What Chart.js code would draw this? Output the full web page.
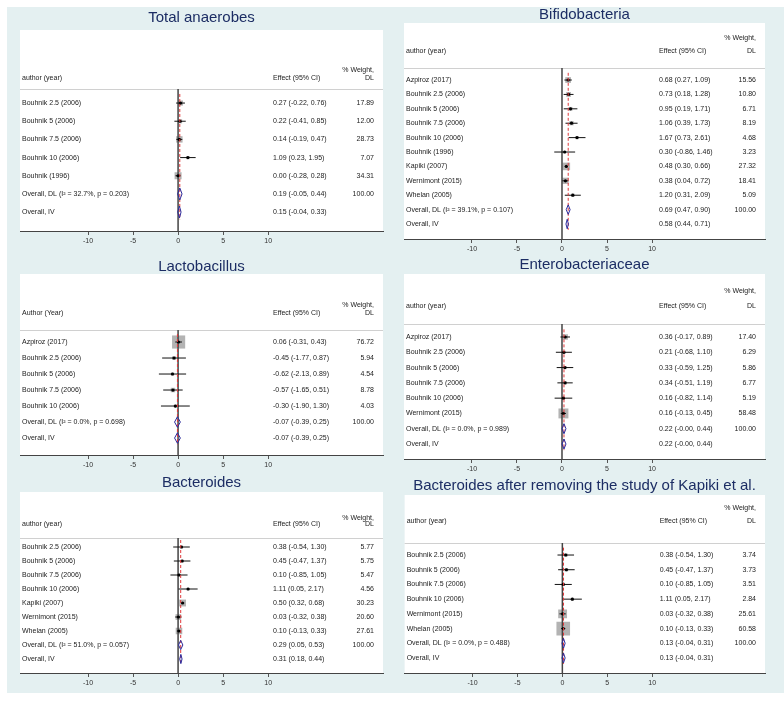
<!DOCTYPE html>
<html>
<head>
<meta charset="utf-8">
<title>Forest plots</title>
<script src="https://cdn.jsdelivr.net/npm/chart.js@4.4.0/dist/chart.umd.min.js"></script>
<style>
  html, body { margin: 0; padding: 0; background: #fff; }
  body { width: 784px; height: 703px; position: relative; overflow: hidden; }
  canvas { position: absolute; }
</style>
</head>
<body>
<script>
// x axis tick labels, shared by all six plots
const xTicks = [-10, -5, 0, 5, 10];

// Total anaerobes
const anaerobesStudies = ["Bouhnik 2.5 (2006)", "Bouhnik 5 (2006)", "Bouhnik 7.5 (2006)", "Bouhnik 10 (2006)", "Bouhnik (1996)"];
const anaerobesEst = [0.27, 0.22, 0.14, 1.09, 0.00];
const anaerobesLo = [-0.22, -0.41, -0.19, 0.23, -0.28];
const anaerobesHi = [0.76, 0.85, 0.47, 1.95, 0.28];
const anaerobesWeight = [17.89, 12.00, 28.73, 7.07, 34.31];
const anaerobesOverall = ["Overall, DL (I\u00b2 = 32.7%, p = 0.203)", "Overall, IV"];
const anaerobesOverallEst = [0.19, 0.15];
const anaerobesOverallLo = [-0.05, -0.04];
const anaerobesOverallHi = [0.44, 0.33];

// Bifidobacteria
const bifidoStudies = ["Azpiroz (2017)", "Bouhnik 2.5 (2006)", "Bouhnik 5 (2006)", "Bouhnik 7.5 (2006)", "Bouhnik 10 (2006)", "Bouhnik (1996)", "Kapiki (2007)", "Wernimont (2015)", "Whelan (2005)"];
const bifidoEst = [0.68, 0.73, 0.95, 1.06, 1.67, 0.30, 0.48, 0.38, 1.20];
const bifidoLo = [0.27, 0.18, 0.19, 0.39, 0.73, -0.86, 0.30, 0.04, 0.31];
const bifidoHi = [1.09, 1.28, 1.71, 1.73, 2.61, 1.46, 0.66, 0.72, 2.09];
const bifidoWeight = [15.56, 10.80, 6.71, 8.19, 4.68, 3.23, 27.32, 18.41, 5.09];
const bifidoOverall = ["Overall, DL (I\u00b2 = 39.1%, p = 0.107)", "Overall, IV"];
const bifidoOverallEst = [0.69, 0.58];
const bifidoOverallLo = [0.47, 0.44];
const bifidoOverallHi = [0.90, 0.71];

// Lactobacillus
const lactoStudies = ["Azpiroz (2017)", "Bouhnik 2.5 (2006)", "Bouhnik 5 (2006)", "Bouhnik 7.5 (2006)", "Bouhnik 10 (2006)"];
const lactoEst = [0.06, -0.45, -0.62, -0.57, -0.30];
const lactoLo = [-0.31, -1.77, -2.13, -1.65, -1.90];
const lactoHi = [0.43, 0.87, 0.89, 0.51, 1.30];
const lactoWeight = [76.72, 5.94, 4.54, 8.78, 4.03];
const lactoOverall = ["Overall, DL (I\u00b2 = 0.0%, p = 0.698)", "Overall, IV"];
const lactoOverallEst = [-0.07, -0.07];
const lactoOverallLo = [-0.39, -0.39];
const lactoOverallHi = [0.25, 0.25];

// Enterobacteriaceae
const enteroStudies = ["Azpiroz (2017)", "Bouhnik 2.5 (2006)", "Bouhnik 5 (2006)", "Bouhnik 7.5 (2006)", "Bouhnik 10 (2006)", "Wernimont (2015)"];
const enteroEst = [0.36, 0.21, 0.33, 0.34, 0.16, 0.16];
const enteroLo = [-0.17, -0.68, -0.59, -0.51, -0.82, -0.13];
const enteroHi = [0.89, 1.10, 1.25, 1.19, 1.14, 0.45];
const enteroWeight = [17.40, 6.29, 5.86, 6.77, 5.19, 58.48];
const enteroOverall = ["Overall, DL (I\u00b2 = 0.0%, p = 0.989)", "Overall, IV"];
const enteroOverallEst = [0.22, 0.22];
const enteroOverallLo = [-0.00, -0.00];
const enteroOverallHi = [0.44, 0.44];

// Bacteroides
const bactStudies = ["Bouhnik 2.5 (2006)", "Bouhnik 5 (2006)", "Bouhnik 7.5 (2006)", "Bouhnik 10 (2006)", "Kapiki (2007)", "Wernimont (2015)", "Whelan (2005)"];
const bactEst = [0.38, 0.45, 0.10, 1.11, 0.50, 0.03, 0.10];
const bactLo = [-0.54, -0.47, -0.85, 0.05, 0.32, -0.32, -0.13];
const bactHi = [1.30, 1.37, 1.05, 2.17, 0.68, 0.38, 0.33];
const bactWeight = [5.77, 5.75, 5.47, 4.56, 30.23, 20.60, 27.61];
const bactOverall = ["Overall, DL (I\u00b2 = 51.0%, p = 0.057)", "Overall, IV"];
const bactOverallEst = [0.29, 0.31];
const bactOverallLo = [0.05, 0.18];
const bactOverallHi = [0.53, 0.44];

// Bacteroides without Kapiki
const bact2Studies = ["Bouhnik 2.5 (2006)", "Bouhnik 5 (2006)", "Bouhnik 7.5 (2006)", "Bouhnik 10 (2006)", "Wernimont (2015)", "Whelan (2005)"];
const bact2Est = [0.38, 0.45, 0.10, 1.11, 0.03, 0.10];
const bact2Lo = [-0.54, -0.47, -0.85, 0.05, -0.32, -0.13];
const bact2Hi = [1.30, 1.37, 1.05, 2.17, 0.38, 0.33];
const bact2Weight = [3.74, 3.73, 3.51, 2.84, 25.61, 60.58];
const bact2Overall = ["Overall, DL (I\u00b2 = 0.0%, p = 0.488)", "Overall, IV"];
const bact2OverallEst = [0.13, 0.13];
const bact2OverallLo = [-0.04, -0.04];
const bact2OverallHi = [0.31, 0.31];

const FONT = "'Liberation Sans', Arial, sans-serif";
const BG = '#e4f0f1';

Chart.defaults.font.family = FONT;
Chart.defaults.font.size = 7;
Chart.defaults.color = '#222';

// layout of each panel on the page (box = canvas, white = plot box left/right/top)
const panels = [
  { title: "Total anaerobes", head: "author (year)", names: anaerobesStudies, est: anaerobesEst, lo: anaerobesLo, hi: anaerobesHi, w: anaerobesWeight,
    ov: anaerobesOverall, ovEst: anaerobesOverallEst, ovLo: anaerobesOverallLo, ovHi: anaerobesOverallHi,
    box: [7, 7, 389, 250], white: [20, 383, 30], axisY: 231, titleY: 18, xMax: 22.75,
    yMin: -3.02, yMax: 8.04, sep: 0.23, hdrA: -0.38, hdrW: -0.82, k: 1.2, effX: 253 },
  { title: "Bifidobacteria", head: "author (year)", names: bifidoStudies, est: bifidoEst, lo: bifidoLo, hi: bifidoHi, w: bifidoWeight,
    ov: bifidoOverall, ovEst: bifidoOverallEst, ovLo: bifidoOverallLo, ovHi: bifidoOverallHi,
    box: [395, 7, 389, 249], white: [404, 765, 23], axisY: 239, titleY: 14, xMax: 22.55,
    yMin: -2.96, yMax: 12.04, sep: 0.17, hdrA: -1.01, hdrW: -1.92, k: 1.45, effX: 255 },
  { title: "Lactobacillus", head: "Author (Year)", names: lactoStudies, est: lactoEst, lo: lactoLo, hi: lactoHi, w: lactoWeight,
    ov: lactoOverall, ovEst: lactoOverallEst, ovLo: lactoOverallLo, ovHi: lactoOverallHi,
    box: [7, 257, 389, 215], white: [20, 383, 274], axisY: 455, titleY: 267, xMax: 22.75,
    yMin: -3.25, yMax: 8.06, sep: 0.25, hdrA: -0.81, hdrW: -1.31, k: 1.5, effX: 253 },
  { title: "Enterobacteriaceae", head: "author (year)", names: enteroStudies, est: enteroEst, lo: enteroLo, hi: enteroHi, w: enteroWeight,
    ov: enteroOverall, ovEst: enteroOverallEst, ovLo: enteroOverallLo, ovHi: enteroOverallHi,
    box: [395, 256, 389, 220], white: [404, 765, 274], axisY: 459, titleY: 265, xMax: 22.55,
    yMin: -3.12, yMax: 8.98, sep: 0.15, hdrA: -1.03, hdrW: -2.01, k: 1.3, effX: 255 },
  { title: "Bacteroides", head: "author (year)", names: bactStudies, est: bactEst, lo: bactLo, hi: bactHi, w: bactWeight,
    ov: bactOverall, ovEst: bactOverallEst, ovLo: bactOverallLo, ovHi: bactOverallHi,
    box: [7, 472, 389, 221], white: [20, 383, 492], axisY: 673, titleY: 483, xMax: 22.75,
    yMin: -2.93, yMax: 10.0, sep: 0.36, hdrA: -0.64, hdrW: -1.07, k: 1.25, effX: 253 },
  { title: "Bacteroides after removing the study of Kapiki et al.", head: "author (year)", names: bact2Studies, est: bact2Est, lo: bact2Lo, hi: bact2Hi, w: bact2Weight,
    ov: bact2Overall, ovEst: bact2OverallEst, ovLo: bact2OverallLo, ovHi: bact2OverallHi,
    box: [395, 476, 389, 217], white: [404, 765, 495], axisY: 673, titleY: 486, xMax: 22.55,
    yMin: -3.08, yMax: 9.02, sep: 0.18, hdrA: -1.31, hdrW: -2.2, k: 1.75, effX: 255 }
];

const fmt = v => (Object.is(v, -0) ? '-' : '') + v.toFixed(2);

// background, white plot box, header and the effect column
const framePlugin = {
  id: 'forestFrame',
  beforeDraw(chart, args, o) {
    const { ctx, chartArea: a, scales: { y } } = chart;
    ctx.save();
    ctx.fillStyle = BG;
    ctx.fillRect(0, 0, chart.width, chart.height);
    ctx.fillStyle = '#fff';
    ctx.fillRect(a.left, a.top, a.right - a.left, a.bottom - a.top);
    const ys = Math.round(y.getPixelForValue(o.sep)) + 0.5;
    ctx.strokeStyle = '#d0d0d0';
    ctx.lineWidth = 1;
    ctx.beginPath(); ctx.moveTo(a.left, ys); ctx.lineTo(a.right, ys); ctx.stroke();
    ctx.restore();
  },
  afterDatasetsDraw(chart, args, o) {
    const { ctx, chartArea: a, scales: { y } } = chart;
    ctx.save();
    ctx.font = '7px ' + FONT;
    ctx.fillStyle = '#222';
    ctx.textBaseline = 'middle';
    ctx.textAlign = 'left';
    ctx.fillText(o.head, a.left + 2, y.getPixelForValue(o.hdrA));
    ctx.fillText('Effect (95% CI)', a.left + o.effX, y.getPixelForValue(o.hdrA));
    o.effects.forEach((t, i) => ctx.fillText(t, a.left + o.effX, y.getPixelForValue(i + 1)));
    ctx.textAlign = 'right';
    ctx.fillText('% Weight,', a.right - 9, y.getPixelForValue(o.hdrW));
    ctx.fillText('DL', a.right - 9, y.getPixelForValue(o.hdrA));
    ctx.restore();
  }
};

function makeChart(p) {
  const n = p.names.length;
  const labels = p.names.concat(p.ov);
  const rows = labels.map((_, i) => i + 1);
  const allEst = p.est.concat(p.ovEst);
  const allLo = p.lo.concat(p.ovLo);
  const allHi = p.hi.concat(p.ovHi);
  const effects = allEst.map((v, i) => fmt(v) + ' (' + fmt(allLo[i]) + ', ' + fmt(allHi[i]) + ')');
  const weights = p.w.map(v => v.toFixed(2)).concat(['100.00', '']);

  const canvas = document.createElement('canvas');
  canvas.width = p.box[2];
  canvas.height = p.box[3];
  canvas.style.left = p.box[0] + 'px';
  canvas.style.top = p.box[1] + 'px';
  document.body.appendChild(canvas);

  const topOff = p.white[2] - p.box[1];
  let pb = Math.max(0, topOff - Math.max(0, p.titleY - p.box[1] - 7.5) - 15);
  let pt = topOff - 15 - pb;

  const ciData = [];
  p.est.forEach((v, i) => {
    ciData.push({ x: p.lo[i], y: i + 1 }, { x: p.hi[i], y: i + 1 }, { x: null, y: null });
  });
  const h = 0.33;
  const diamondData = [];
  p.ovEst.forEach((v, i) => {
    const r = n + 1 + i;
    diamondData.push({ x: p.ovLo[i], y: r }, { x: v, y: r - h }, { x: p.ovHi[i], y: r },
      { x: v, y: r + h }, { x: p.ovLo[i], y: r }, { x: null, y: null });
  });

  new Chart(canvas, {
    type: 'scatter',
    data: {
      datasets: [
        { data: diamondData, showLine: true, spanGaps: false, borderColor: '#2b2b9c', borderWidth: 1, pointRadius: 0 },
        { data: [{ x: p.ovEst[0], y: 0.5 }, { x: p.ovEst[0], y: labels.length + 0.4 }], showLine: true,
          borderColor: '#e0393a', borderWidth: 1, borderDash: [3, 2], pointRadius: 0 },
        { data: p.est.map((v, i) => ({ x: v, y: i + 1 })), pointStyle: 'circle', pointRadius: 1.6,
          backgroundColor: '#000', borderWidth: 0 },
        { data: ciData, showLine: true, spanGaps: false, borderColor: '#111', borderWidth: 1, pointRadius: 0 },
        { data: [{ x: 0, y: p.sep }, { x: 0, y: p.yMax }], showLine: true, borderColor: '#444', borderWidth: 1.5, pointRadius: 0 },
        { data: p.est.map((v, i) => ({ x: v, y: i + 1 })), pointStyle: 'rect',
          pointRadius: p.w.map(w => p.k * Math.sqrt(w) / Math.SQRT2), backgroundColor: '#b3b3b3', borderWidth: 0 }
      ]
    },
    options: {
      responsive: false,
      animation: false,
      events: [],
      layout: {
        padding: {
          left: p.white[0] - p.box[0],
          right: p.box[0] + p.box[2] - p.white[1],
          top: 0,
          bottom: p.box[3] - (p.axisY - p.box[1]) - 16
        }
      },
      plugins: {
        legend: { display: false },
        tooltip: { enabled: false },
        title: {
          display: true, text: p.title, color: '#1c2d64',
          font: { size: 15, weight: 'normal', lineHeight: 1 },
          padding: { top: pt, bottom: pb }
        },
        forestFrame: { sep: p.sep, hdrA: p.hdrA, hdrW: p.hdrW, head: p.head, effX: p.effX, effects: effects }
      },
      scales: {
        x: {
          type: 'linear', min: -17.55, max: p.xMax,
          afterBuildTicks: s => { s.ticks = xTicks.map(v => ({ value: v })); },
          afterFit: s => { s.height = 16; },
          grid: { drawOnChartArea: false, drawTicks: true, tickLength: 4, color: '#555' },
          border: { display: true, color: '#444', width: 1 },
          ticks: { padding: 2, color: '#333', autoSkip: false }
        },
        y: {
          type: 'linear', position: 'left', reverse: true, min: p.yMin, max: p.yMax,
          afterBuildTicks: s => { s.ticks = rows.map(v => ({ value: v })); },
          afterFit: s => { s.width = 0; },
          grid: { display: false }, border: { display: false },
          ticks: { mirror: true, padding: 2, autoSkip: false, color: '#222',
            callback: v => labels[Math.round(v) - 1] }
        },
        yw: {
          type: 'linear', position: 'right', reverse: true, min: p.yMin, max: p.yMax,
          afterBuildTicks: s => { s.ticks = rows.map(v => ({ value: v })); },
          afterFit: s => { s.width = 0; },
          grid: { display: false }, border: { display: false },
          ticks: { mirror: true, padding: -9, autoSkip: false, color: '#222',
            callback: v => weights[Math.round(v) - 1] }
        }
      }
    },
    plugins: [framePlugin]
  });
}

panels.forEach(makeChart);
</script>
</body>
</html>
